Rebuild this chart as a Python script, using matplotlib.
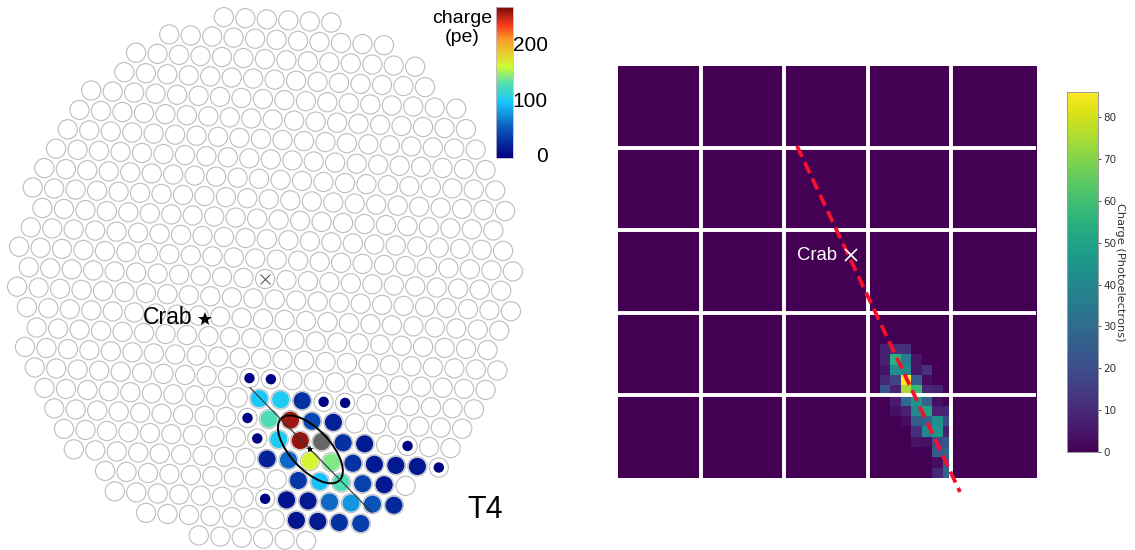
import numpy as np
import matplotlib
matplotlib.use('Agg')
import matplotlib.pyplot as plt
from matplotlib.collections import PatchCollection
from matplotlib.colors import LinearSegmentedColormap
from matplotlib.patches import Circle, Ellipse
from matplotlib.transforms import ScaledTranslation

plt.rcParams['font.family'] = ['Liberation Sans', 'DejaVu Sans']

# =============================================
# Data
# =============================================
# camera rows, top to bottom: first and last pixel index in each row
row_ids = np.arange(-13, 14)
row_first = [-9, -11, -12, -12, -13, -13, -13, -13, -13, -13, -12, -12, -12, -11,
             -11, -10, -9, -9, -8, -7, -6, -5, -4, -2, -1, 1, 4]
row_last = [-4, -1, 1, 2, 4, 5, 6, 7, 8, 9, 9, 10, 11, 11,
            12, 12, 12, 13, 13, 13, 13, 13, 13, 12, 12, 11, 9]

# pixels with charge: row -> (first index in row, charges), nan = dead pixel
lit_rows = {
    5: [(2, [3, 3])],
    6: [(3, [100, 105, 30, 3, 3])],
    7: [(3, [3, 130, 262, 45, 20])],
    8: [(4, [3, 105, 265, np.nan, 30, 15]), (11, [3])],
    9: [(5, [22, 60, 168, 145, 30, 15, 15, 15, 3])],
    10: [(7, [35, 98, 130, 40, 15])],
    11: [(6, [3, 12, 15, 60, 80, 50, 25])],
    12: [(8, [12, 15, 30, 38])],
}

cam_ticks = [0, 100, 200]
cam_vmax = 272

# DL1 image, 40 x 40: row -> (first column, charges)
hot_rows = {
    27: (25, [8, 12, 12]),
    28: (25, [8, 55, 35, 5]),
    29: (25, [5, 42, 40, 5, 12]),
    30: (25, [10, 18, 86, 25, 3]),
    31: (25, [22, 8, 75, 58, 10, 8]),
    32: (26, [7, 30, 45, 28, 4]),
    33: (26, [4, 8, 40, 50, 8, 10]),
    34: (27, [3, 25, 28, 42, 20]),
    35: (28, [12, 40, 45, 8]),
    36: (28, [5, 4, 20, 22]),
    37: (29, [1, 25, 28]),
    38: (30, [3, 25]),
    39: (30, [10, 28]),
}
module_edges = [8, 16, 24, 32]
img_ticks = [0, 10, 20, 30, 40, 50, 60, 70, 80]

# =============================================
# Left: camera, axes in pixels of the figure
# =============================================
W, H = 1135, 550
fig = plt.figure(figsize=(W / 100, H / 100), dpi=100)


def px_axes(x0, y0, x1, y1):
    return fig.add_axes([x0 / W, 1 - y1 / H, (x1 - x0) / W, (y1 - y0) / H])


def cam_xy(i, j):
    return 265 + 21.47 * i - 11.7 * j, 279 + 1.07 * i + 19.4 * j


ax = px_axes(0, 0, 560, 550)
ax.set_xlim(0, 560)
ax.set_ylim(550, 0)
ax.axis('off')

jet_soft = LinearSegmentedColormap.from_list('jet_soft', [
    (0.00, '#000080'), (0.20, '#0a5abe'), (0.37, '#19c8fa'), (0.50, '#5ae1aa'),
    (0.61, '#d2fa32'), (0.78, '#faa028'), (0.88, '#fa3c1e'), (1.00, '#780a0a')])
jet_soft.set_bad('#666666')

outlines = []
for j, first, last in zip(row_ids, row_first, row_last):
    for i in range(first, last + 1):
        outlines.append(Circle(cam_xy(i, j), 9.6))
ax.add_collection(PatchCollection(outlines, facecolor='white', edgecolor='#bdbdbd', linewidth=0.8))

patches, charges = [], []
for j, groups in lit_rows.items():
    for first, vals in groups:
        for k, v in enumerate(vals):
            # below the cleaning threshold the pixel is only a small dot
            patches.append(Circle(cam_xy(first + k, j), 5.2 if v < 5 else 8.6))
            charges.append(v)
pc = PatchCollection(patches, cmap=jet_soft, edgecolor='none')
pc.set_array(np.ma.masked_invalid(charges))
pc.set_clim(0, cam_vmax)
ax.add_collection(pc)

ax.plot([250, 371.7], [387.7, 512.3], color='#333333', lw=0.8)
ax.add_patch(Ellipse((310.4, 449.4), 85, 40, angle=47, fill=False, edgecolor='black', lw=1.4))
ax.plot(310, 448.7, marker='*', ms=6, color='black', mew=0, ls='none')
ax.plot(265, 279, marker='x', ms=7, color='#444444', mew=0.7, ls='none')
ax.plot(205, 319, marker='*', ms=10, color='black', mew=0, ls='none')
ax.text(143, 317, 'Crab', fontsize=16.6, va='center', ha='left')
ax.text(467, 510, 'T4', fontsize=22, va='center', ha='left')
ax.text(462, 28, 'charge\n(pe)', fontsize=14, va='center', ha='center', linespacing=1.15)

cax = px_axes(496, 7, 513, 158)
cb = fig.colorbar(pc, cax=cax, ticks=cam_ticks)
cb.ax.tick_params(length=0, labelsize=15, pad=25)
shift_up = ScaledTranslation(0, 2.5 / 72, fig.dpi_scale_trans)
for t in cb.ax.get_yticklabels():
    t.set_ha('right')
    t.set_transform(t.get_transform() + shift_up)
cb.outline.set_edgecolor('#c8b8c8')
cb.outline.set_linewidth(0.6)

# =============================================
# Right: image with module grid
# =============================================
img = np.zeros((40, 40))
for r, (c0, vals) in hot_rows.items():
    img[r, c0:c0 + len(vals)] = vals

ax2 = px_axes(618, 66, 1036, 478)
im = ax2.imshow(img, cmap='viridis', vmin=0, vmax=86, aspect='auto', interpolation='nearest')
ax2.axis('off')
for e in module_edges:
    ax2.axvline(e - 0.6, color='white', lw=2.8)
    ax2.axhline(e - 0.55, color='white', lw=2.8)


def img_xy(x, y):
    return (x - 618) / 10.45 - 0.5, (y - 66) / 10.3 - 0.5


x0, y0 = img_xy(797, 146)
x1, y1 = img_xy(960, 492)
ax2.plot([x0, x1], [y0, y1], color='#f5102e', lw=2.7, ls=(0, (3.2, 1.6)), clip_on=False)
ax2.set_xlim(-0.5, 39.5)
ax2.set_ylim(39.5, -0.5)

tx, ty = img_xy(797, 255)
ax2.text(tx, ty, 'Crab', color='white', fontsize=13.3, va='center', ha='left')
tx, ty = img_xy(851, 255)
ax2.plot(tx, ty, marker='x', ms=8, color='white', mew=1.2, ls='none')

cax2 = px_axes(1067, 92, 1098, 452)
cb2 = fig.colorbar(im, cax=cax2, ticks=img_ticks)
cb2.ax.tick_params(labelsize=7.5, length=2, width=0.6, colors='#333333', pad=2)
cb2.outline.set_edgecolor('#999999')
cb2.outline.set_linewidth(0.7)
for t in cb2.ax.get_yticklabels():
    t.set_family('DejaVu Sans')
cb2.set_label('Charge (Photoelectrons)', rotation=270, fontsize=8.2, family='DejaVu Sans',
              color='#333333', labelpad=6)

fig.savefig('out.png', dpi=100)
